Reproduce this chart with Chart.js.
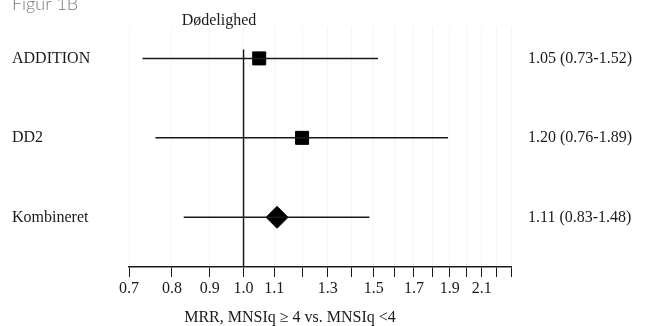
<!DOCTYPE html>
<html>
<head>
<meta charset="utf-8">
<script src="https://cdn.jsdelivr.net/npm/chart.js@4"></script>
<style>
  body { margin: 0; background: #fff; }
</style>
</head>
<body>
<canvas id="forestChart" width="652" height="326"></canvas>
<script>
const studies = ['ADDITION', 'DD2', 'Kombineret'];
const estimates = [1.05, 1.20, 1.11];
const lowerCI = [0.73, 0.76, 0.83];
const upperCI = [1.52, 1.89, 1.48];
const markers = ['rect', 'rect', 'rectRot'];
const rowPos = [3, 2, 1];
const tickValues = [0.7, 0.8, 0.9, 1.0, 1.1, 1.2, 1.3, 1.4, 1.5, 1.6, 1.7, 1.8, 1.9, 2.0, 2.1, 2.2, 2.3];
const labeledTicks = [0.7, 0.8, 0.9, 1.0, 1.1, 1.3, 1.5, 1.7, 1.9, 2.1];

const serif = '"Liberation Serif", "Times New Roman", serif';
const ink = '#1a1a1a';

const ciText = estimates.map((e, i) =>
  e.toFixed(2) + ' (' + lowerCI[i].toFixed(2) + '-' + upperCI[i].toFixed(2) + ')');

const ciLines = studies.map((s, i) => ({
  type: 'line',
  data: [{ x: lowerCI[i], y: rowPos[i] }, { x: upperCI[i], y: rowPos[i] }],
  borderColor: ink,
  borderWidth: 1.5,
  pointRadius: 0
}));

const textPlugin = {
  id: 'extraText',
  afterDraw(chart) {
    const c = chart.ctx;
    c.save();
    c.fillStyle = '#7a7a7a';
    c.font = '300 18px Lato, "Open Sans", sans-serif';
    c.textAlign = 'left';
    c.textBaseline = 'alphabetic';
    c.fillText('Figur 1B', 12, 10);

    c.fillStyle = ink;
    c.font = '16px ' + serif;
    c.textAlign = 'center';
    c.textBaseline = 'middle';
    c.fillText('Dødelighed', 219, 21);
    c.fillText('MRR, MNSIq \u2265 4 vs. MNSIq <4', 290, 318);
    c.restore();
  }
};

const ctx = document.getElementById('forestChart').getContext('2d');

const forestChart = new Chart(ctx, {
  data: {
    datasets: [
      {
        type: 'line',
        data: [{ x: 1, y: 3.1125 }, { x: 1, y: 0.375 }],
        borderColor: ink,
        borderWidth: 1.5,
        pointRadius: 0
      },
      ...ciLines,
      {
        type: 'scatter',
        data: estimates.map((e, i) => ({ x: e, y: rowPos[i] })),
        pointStyle: markers,
        pointRadius: [9.2, 9.2, 11],
        backgroundColor: '#000',
        borderColor: '#000',
        borderWidth: 1
      }
    ]
  },
  options: {
    responsive: false,
    animation: false,
    layout: { padding: { left: 12, top: 25, right: 0, bottom: 0 } },
    plugins: {
      legend: { display: false },
      tooltip: { enabled: false }
    },
    scales: {
      x: {
        type: 'logarithmic',
        min: 0.7,
        max: 2.3,
        afterBuildTicks: s => { s.ticks = tickValues.map(v => ({ value: v })); },
        afterFit: s => { s.height = 59; },
        ticks: {
          autoSkip: false,
          maxRotation: 0,
          padding: 2,
          color: ink,
          font: { family: serif, size: 16 },
          callback: v => labeledTicks.includes(Math.round(v * 10) / 10) ? v.toFixed(1) : ''
        },
        grid: { color: '#f5f5f5', tickColor: ink, tickLength: 10, lineWidth: 1 },
        border: { color: ink, width: 1.5 }
      },
      y: {
        type: 'linear',
        position: 'left',
        min: 0.375,
        max: 3.4,
        afterBuildTicks: s => { s.ticks = rowPos.map(v => ({ value: v })); },
        afterFit: s => { s.width = 117; },
        ticks: {
          crossAlign: 'far',
          color: ink,
          font: { family: serif, size: 16 },
          callback: v => studies[rowPos.indexOf(v)]
        },
        grid: { display: false },
        border: { display: false }
      },
      y2: {
        type: 'linear',
        position: 'right',
        min: 0.375,
        max: 3.4,
        afterBuildTicks: s => { s.ticks = rowPos.map(v => ({ value: v })); },
        afterFit: s => { s.width = 141; },
        ticks: {
          crossAlign: 'near',
          padding: 17,
          color: ink,
          font: { family: serif, size: 16 },
          callback: v => ciText[rowPos.indexOf(v)]
        },
        grid: { display: false, drawTicks: false },
        border: { display: false }
      }
    }
  },
  plugins: [textPlugin]
});
</script>
</body>
</html>
